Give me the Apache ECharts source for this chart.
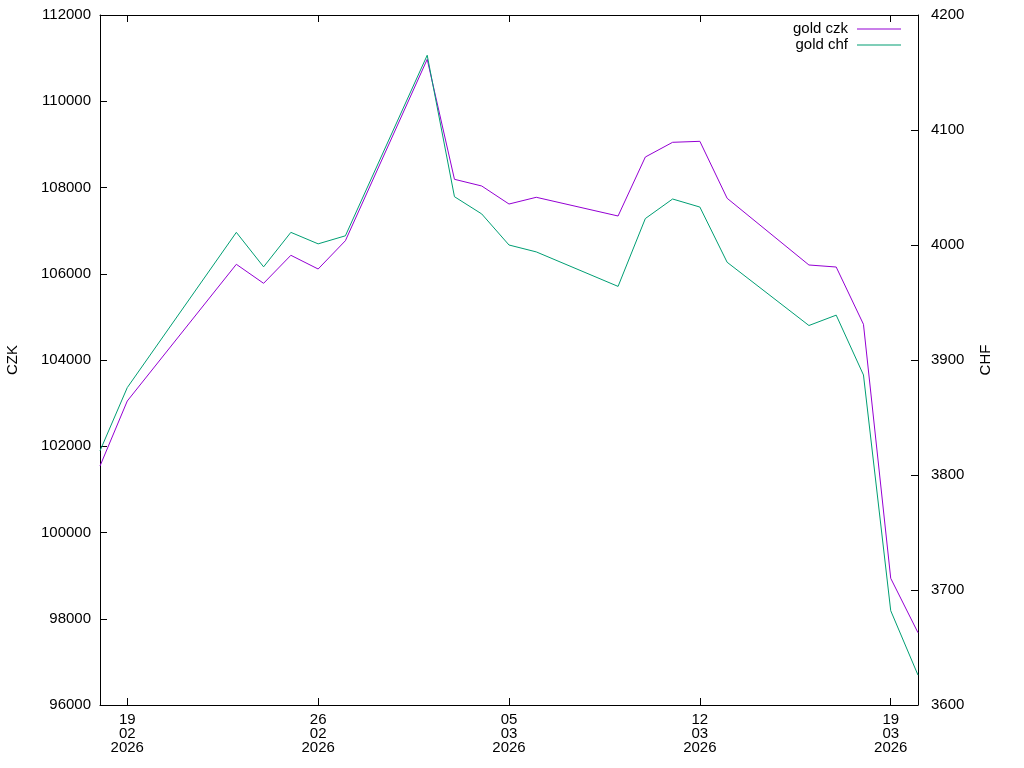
<!DOCTYPE html>
<html>
<head>
<meta charset="utf-8">
<script src="https://cdn.jsdelivr.net/npm/echarts@6/dist/echarts.min.js"></script>
<style>
html,body{margin:0;padding:0;background:#fff;}
#chart{width:1024px;height:768px;}
</style>
</head>
<body>
<div id="chart"></div>
<script>
const dates = ['2026-02-18','2026-02-19','2026-02-23','2026-02-24','2026-02-25','2026-02-26','2026-02-27',
  '2026-03-02','2026-03-03','2026-03-04','2026-03-05','2026-03-06','2026-03-09','2026-03-10','2026-03-11',
  '2026-03-12','2026-03-13','2026-03-16','2026-03-17','2026-03-18','2026-03-19','2026-03-20'];
const goldCzk = [101542,103049,106219,105778,106428,106110,106766,
  110972,108190,108035,107617,107773,107339,108707,109048,
  109071,107750,106203,106156,104828,98938,97676];
const goldChf = [3821,3876,4011,3981,4011,4001,4008,
  4165,4042,4027,4000,3994,3964,4023,4040,
  4033,3985,3930,3939,3887,3682,3626];
const xTickDates = ['2026-02-19','2026-02-26','2026-03-05','2026-03-12','2026-03-19'];
const xMinDate = '2026-02-18';
const xMaxDate = '2026-03-20';

function ts(s){ const p = s.split('-').map(Number); return new Date(p[0], p[1]-1, p[2]).getTime(); }
function pad(n){ return (n < 10 ? '0' : '') + n; }
const xTicks = xTickDates.map(ts);
const FONT = 'Liberation Sans, Arial, sans-serif';

const chart = echarts.init(document.getElementById('chart'), null, {renderer:'canvas'});
function xAxisBase(){
  return {
    type: 'value', min: ts(xMinDate), max: ts(xMaxDate), scale: true,
    axisLine: {show:true, onZero:false, lineStyle:{color:'#000', width:1}},
    splitLine: {show:false},
    axisTick: {show:true, inside:true, length:7, customValues: xTicks, lineStyle:{color:'#000'}}
  };
}
const plain = function(v){ return String(v); };
chart.setOption({
  animation: false,
  backgroundColor: '#fff',
  grid: {left:100, right:106, top:15, bottom:63, containLabel:false, outerBoundsMode:'none'},
  legend: {
    orient: 'vertical', align: 'right', right: 118, top: 16,
    icon: 'rect', itemWidth: 44, itemHeight: 1, itemGap: 0,
    textStyle: {fontFamily: FONT, fontSize: 15, lineHeight: 16, color:'#000', padding:[0,4,0,0]},
    data: ['gold czk','gold chf']
  },
  xAxis: [
    Object.assign(xAxisBase(), {
      position: 'bottom',
      axisLabel: {customValues: xTicks, color:'#000', fontFamily: FONT, fontSize:15, lineHeight:14, margin:8,
        formatter: function(v){ const d = new Date(v); return pad(d.getDate()) + '\n' + pad(d.getMonth()+1) + '\n' + d.getFullYear(); }}
    }),
    Object.assign(xAxisBase(), {position:'top', axisLabel:{show:false}})
  ],
  yAxis: [
    {type:'value', min:96000, max:112000, interval:2000, position:'left',
      name:'CZK', nameLocation:'middle', nameGap:80,
      nameTextStyle:{fontFamily:FONT, fontSize:15, color:'#000'},
      axisLine:{show:true, lineStyle:{color:'#000'}},
      axisTick:{show:true, inside:true, length:7, lineStyle:{color:'#000'}},
      axisLabel:{color:'#000', fontFamily:FONT, fontSize:15, margin:9, formatter: plain},
      splitLine:{show:false}},
    {type:'value', min:3600, max:4200, interval:100, position:'right', alignTicks:false,
      name:'CHF', nameLocation:'middle', nameGap:60,
      nameTextStyle:{fontFamily:FONT, fontSize:15, color:'#000'},
      axisLine:{show:true, lineStyle:{color:'#000'}},
      axisTick:{show:true, inside:true, length:7, lineStyle:{color:'#000'}},
      axisLabel:{color:'#000', fontFamily:FONT, fontSize:15, margin:13, formatter: plain},
      splitLine:{show:false}}
  ],
  series: [
    {name:'gold czk', type:'line', xAxisIndex:0, yAxisIndex:0, symbol:'none', showSymbol:false,
      data: dates.map((d,i)=>[ts(d), goldCzk[i]]),
      lineStyle:{color:'#9400d3', width:1}, itemStyle:{color:'#9400d3'}},
    {name:'gold chf', type:'line', xAxisIndex:0, yAxisIndex:1, symbol:'none', showSymbol:false,
      data: dates.map((d,i)=>[ts(d), goldChf[i]]),
      lineStyle:{color:'#009e73', width:1}, itemStyle:{color:'#009e73'}}
  ]
});
</script>
</body>
</html>
